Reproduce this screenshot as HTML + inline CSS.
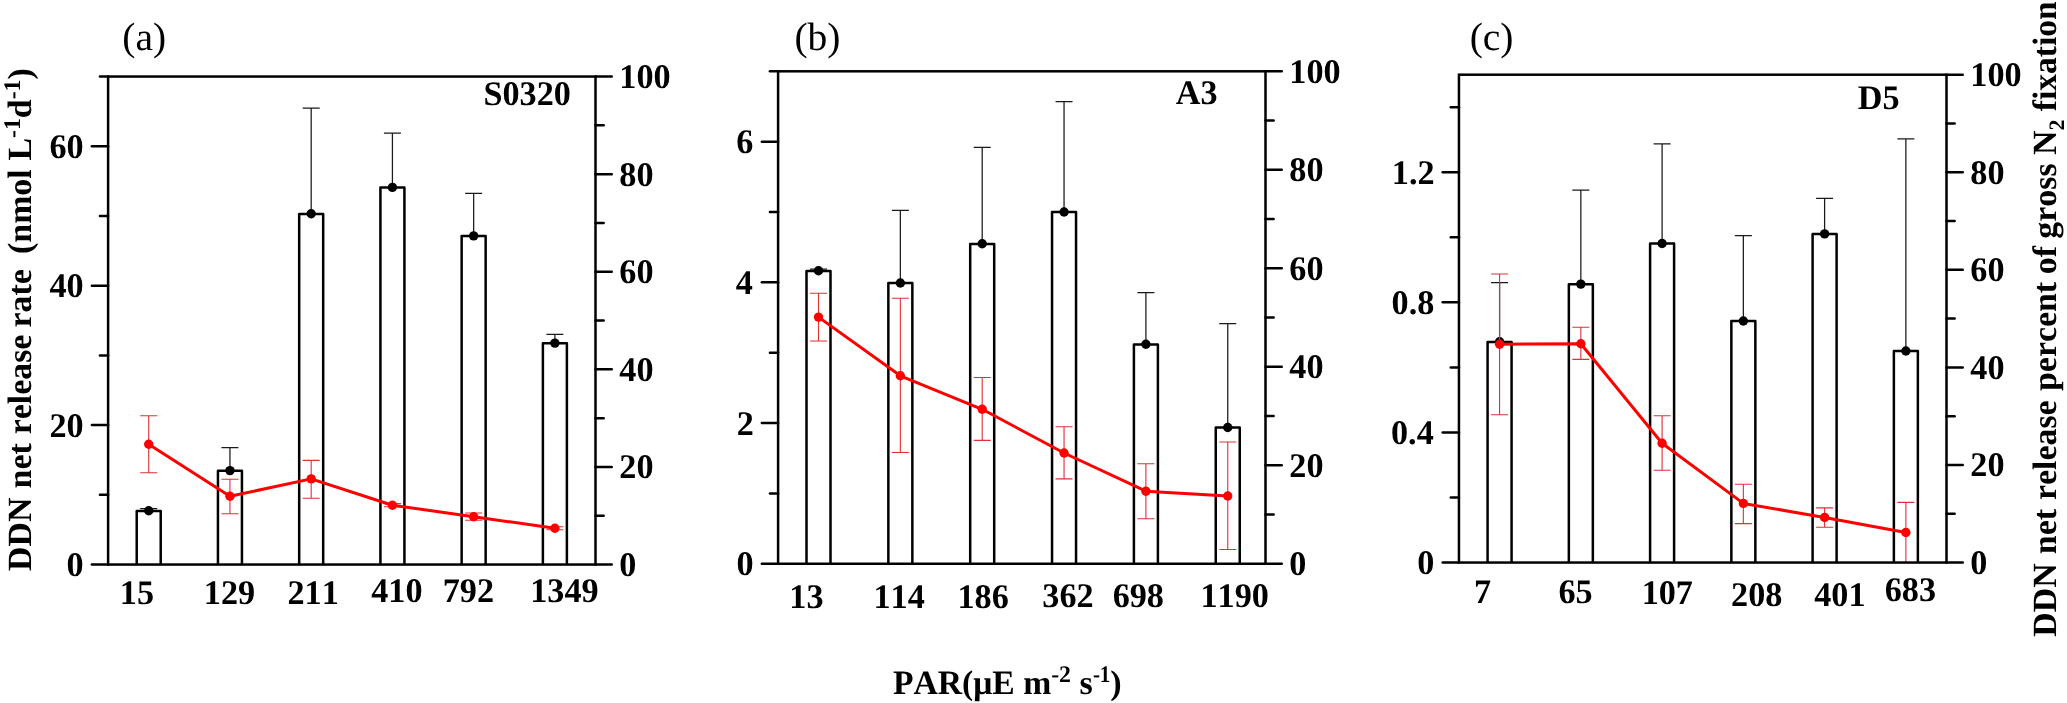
<!DOCTYPE html>
<html lang="en"><head><meta charset="utf-8"><title>DDN net release rate vs PAR</title>
<style>html,body{margin:0;padding:0;background:#fff}body{width:2067px;height:703px;overflow:hidden}svg{display:block;will-change:transform}text{font-family:"Liberation Serif","Times New Roman",Times,serif;fill:#000;font-kerning:none;font-variant-ligatures:none;text-rendering:geometricPrecision}</style>
</head><body>
<svg width="2067" height="703" viewBox="0 0 2067 703" role="img" aria-label="DDN net release rate and percent of gross N2 fixation versus PAR at stations S0320, A3 and D5">
<g id="panel-a">
<g fill="none" stroke="#000" stroke-width="2.5" stroke-linejoin="round">
<path d="M136.72 564.55V510.9H160.72V564.55"/>
<path d="M217.95 564.55V470.7H241.95V564.55"/>
<path d="M299.18 564.55V213.9H323.18V564.55"/>
<path d="M380.42 564.55V187.5H404.42V564.55"/>
<path d="M461.65 564.55V236H485.65V564.55"/>
<path d="M542.88 564.55V343.2H566.88V564.55"/>
</g>
<g stroke="#1a1a1a" stroke-width="1.25" fill="none">
<path d="M148.72 510.9V508.6M140.22 508.6H157.22"/>
<path d="M229.95 470.7V447.7M221.45 447.7H238.45"/>
<path d="M311.18 213.9V108.2M302.68 108.2H319.68"/>
<path d="M392.42 187.5V133M383.92 133H400.92"/>
<path d="M473.65 236V193.3M465.15 193.3H482.15"/>
<path d="M554.88 343.2V334.3M546.38 334.3H563.38"/>
</g>
<g fill="#000">
<circle cx="148.72" cy="510.8" r="4.7"/>
<circle cx="229.95" cy="470.6" r="4.7"/>
<circle cx="311.18" cy="213.8" r="4.7"/>
<circle cx="392.42" cy="187.4" r="4.7"/>
<circle cx="473.65" cy="235.9" r="4.7"/>
<circle cx="554.88" cy="343.1" r="4.7"/>
</g>
<g stroke="#de3038" stroke-width="1.1" fill="none">
<path d="M148.72 415.8V472.8M140.22 415.8H157.22M140.22 472.8H157.22"/>
<path d="M229.95 479.2V513.7M221.45 479.2H238.45M221.45 513.7H238.45"/>
<path d="M311.18 460.4V498.3M302.68 460.4H319.68M302.68 498.3H319.68"/>
<path d="M392.42 503.6V506.8M383.92 503.6H400.92M383.92 506.8H400.92"/>
<path d="M473.65 513V520.2M465.15 513H482.15M465.15 520.2H482.15"/>
<path d="M554.88 526.8V529.8M546.38 526.8H563.38M546.38 529.8H563.38"/>
</g>
<polyline points="148.72,444.3 229.95,496.3 311.18,478.9 392.42,505.2 473.65,516.7 554.88,528.3" fill="none" stroke="#fd0000" stroke-width="3" stroke-linejoin="round"/>
<g fill="#fd0000">
<circle cx="148.72" cy="444.3" r="4.7"/>
<circle cx="229.95" cy="496.3" r="4.7"/>
<circle cx="311.18" cy="478.9" r="4.7"/>
<circle cx="392.42" cy="505.2" r="4.7"/>
<circle cx="473.65" cy="516.7" r="4.7"/>
<circle cx="554.88" cy="528.3" r="4.7"/>
</g>
<rect x="108.1" y="76.55" width="487.4" height="488" fill="none" stroke="#000" stroke-width="2.5"/>
<g stroke="#000" stroke-width="2.5" stroke-linecap="round">
<line x1="91.85" y1="564.55" x2="108.1" y2="564.55"/>
<line x1="99.95" y1="494.84" x2="108.1" y2="494.84"/>
<line x1="91.85" y1="425.12" x2="108.1" y2="425.12"/>
<line x1="99.95" y1="355.41" x2="108.1" y2="355.41"/>
<line x1="91.85" y1="285.69" x2="108.1" y2="285.69"/>
<line x1="99.95" y1="215.98" x2="108.1" y2="215.98"/>
<line x1="91.85" y1="146.26" x2="108.1" y2="146.26"/>
<line x1="99.95" y1="76.55" x2="108.1" y2="76.55"/>
<line x1="595.5" y1="564.55" x2="611.75" y2="564.55"/>
<line x1="595.5" y1="515.75" x2="603.65" y2="515.75"/>
<line x1="595.5" y1="466.95" x2="611.75" y2="466.95"/>
<line x1="595.5" y1="418.15" x2="603.65" y2="418.15"/>
<line x1="595.5" y1="369.35" x2="611.75" y2="369.35"/>
<line x1="595.5" y1="320.55" x2="603.65" y2="320.55"/>
<line x1="595.5" y1="271.75" x2="611.75" y2="271.75"/>
<line x1="595.5" y1="222.95" x2="603.65" y2="222.95"/>
<line x1="595.5" y1="174.15" x2="611.75" y2="174.15"/>
<line x1="595.5" y1="125.35" x2="603.65" y2="125.35"/>
<line x1="595.5" y1="76.55" x2="611.75" y2="76.55"/>
</g>
<g font-size="34.2" font-weight="bold">
<text transform="translate(66.5 576.05) scale(1 1.01)">0</text>
<text transform="translate(49.4 436.62) scale(1 1.01)">20</text>
<text transform="translate(49.4 297.19) scale(1 1.01)">40</text>
<text transform="translate(49.4 157.76) scale(1 1.01)">60</text>
<text transform="translate(619.3 576.05) scale(1 1.01)">0</text>
<text transform="translate(619.3 478.45) scale(1 1.01)">20</text>
<text transform="translate(619.3 380.85) scale(1 1.01)">40</text>
<text transform="translate(619.3 283.25) scale(1 1.01)">60</text>
<text transform="translate(619.3 185.65) scale(1 1.01)">80</text>
<text transform="translate(619.3 88.05) scale(1 1.01)">100</text>
<text transform="translate(119.86 603.5) scale(1 1.01)">15</text>
<text transform="translate(203.8 603.5) scale(1 1.01)">129</text>
<text transform="translate(287.47 604.3) scale(1 1.01)">211</text>
<text transform="translate(371.27 601.5) scale(1 1.01)">410</text>
<text transform="translate(442.71 602.3) scale(1 1.01)">792</text>
<text transform="translate(530.2 601.5) scale(1 1.01)">1349</text>
<text transform="translate(483.48 104.6) scale(1 1.01)">S0320</text>
</g>
<text x="122.33" y="49.8" font-size="39.5">(a)</text>
</g>
<g id="panel-b">
<g fill="none" stroke="#000" stroke-width="2.5" stroke-linejoin="round">
<path d="M806.5 563.75V270.9H830.5V563.75"/>
<path d="M888.35 563.75V283.1H912.35V563.75"/>
<path d="M970.2 563.75V243.9H994.2V563.75"/>
<path d="M1052.05 563.75V212.1H1076.05V563.75"/>
<path d="M1133.9 563.75V344.4H1157.9V563.75"/>
<path d="M1215.75 563.75V427.6H1239.75V563.75"/>
</g>
<g stroke="#1a1a1a" stroke-width="1.25" fill="none">
<path d="M818.5 270.9V269M810 269H827"/>
<path d="M900.35 283.1V210.4M891.85 210.4H908.85"/>
<path d="M982.2 243.9V147.3M973.7 147.3H990.7"/>
<path d="M1064.05 212.1V101.5M1055.55 101.5H1072.55"/>
<path d="M1145.9 344.4V292.5M1137.4 292.5H1154.4"/>
<path d="M1227.75 427.6V323.6M1219.25 323.6H1236.25"/>
</g>
<g fill="#000">
<circle cx="818.5" cy="270.8" r="4.7"/>
<circle cx="900.35" cy="283" r="4.7"/>
<circle cx="982.2" cy="243.8" r="4.7"/>
<circle cx="1064.05" cy="212" r="4.7"/>
<circle cx="1145.9" cy="344.3" r="4.7"/>
<circle cx="1227.75" cy="427.5" r="4.7"/>
</g>
<g stroke="#de3038" stroke-width="1.1" fill="none">
<path d="M818.5 293.3V341M810 293.3H827M810 341H827"/>
<path d="M900.35 298.2V452.5M891.85 298.2H908.85M891.85 452.5H908.85"/>
<path d="M982.2 377.5V440.4M973.7 377.5H990.7M973.7 440.4H990.7"/>
<path d="M1064.05 426.7V478.9M1055.55 426.7H1072.55M1055.55 478.9H1072.55"/>
<path d="M1145.9 463.7V518.8M1137.4 463.7H1154.4M1137.4 518.8H1154.4"/>
<path d="M1227.75 442V549.5M1219.25 442H1236.25M1219.25 549.5H1236.25"/>
</g>
<polyline points="818.5,317.1 900.35,375.8 982.2,409.3 1064.05,453 1145.9,491.2 1227.75,496" fill="none" stroke="#fd0000" stroke-width="3" stroke-linejoin="round"/>
<g fill="#fd0000">
<circle cx="818.5" cy="317.1" r="4.7"/>
<circle cx="900.35" cy="375.8" r="4.7"/>
<circle cx="982.2" cy="409.3" r="4.7"/>
<circle cx="1064.05" cy="453" r="4.7"/>
<circle cx="1145.9" cy="491.2" r="4.7"/>
<circle cx="1227.75" cy="496" r="4.7"/>
</g>
<rect x="778.1" y="71.3" width="487.4" height="492.45" fill="none" stroke="#000" stroke-width="2.5"/>
<g stroke="#000" stroke-width="2.5" stroke-linecap="round">
<line x1="761.85" y1="563.75" x2="778.1" y2="563.75"/>
<line x1="769.95" y1="493.4" x2="778.1" y2="493.4"/>
<line x1="761.85" y1="423.05" x2="778.1" y2="423.05"/>
<line x1="769.95" y1="352.7" x2="778.1" y2="352.7"/>
<line x1="761.85" y1="282.35" x2="778.1" y2="282.35"/>
<line x1="769.95" y1="212" x2="778.1" y2="212"/>
<line x1="761.85" y1="141.65" x2="778.1" y2="141.65"/>
<line x1="769.95" y1="71.3" x2="778.1" y2="71.3"/>
<line x1="1265.5" y1="563.75" x2="1281.75" y2="563.75"/>
<line x1="1265.5" y1="514.5" x2="1273.65" y2="514.5"/>
<line x1="1265.5" y1="465.26" x2="1281.75" y2="465.26"/>
<line x1="1265.5" y1="416.01" x2="1273.65" y2="416.01"/>
<line x1="1265.5" y1="366.77" x2="1281.75" y2="366.77"/>
<line x1="1265.5" y1="317.52" x2="1273.65" y2="317.52"/>
<line x1="1265.5" y1="268.28" x2="1281.75" y2="268.28"/>
<line x1="1265.5" y1="219.03" x2="1273.65" y2="219.03"/>
<line x1="1265.5" y1="169.79" x2="1281.75" y2="169.79"/>
<line x1="1265.5" y1="120.54" x2="1273.65" y2="120.54"/>
<line x1="1265.5" y1="71.3" x2="1281.75" y2="71.3"/>
</g>
<g font-size="34.2" font-weight="bold">
<text transform="translate(736.5 575.25) scale(1 1.01)">0</text>
<text transform="translate(736.67 434.55) scale(1 1.01)">2</text>
<text transform="translate(735.83 293.85) scale(1 1.01)">4</text>
<text transform="translate(736.2 153.15) scale(1 1.01)">6</text>
<text transform="translate(1289.3 575.25) scale(1 1.01)">0</text>
<text transform="translate(1289.3 476.76) scale(1 1.01)">20</text>
<text transform="translate(1289.3 378.27) scale(1 1.01)">40</text>
<text transform="translate(1289.3 279.78) scale(1 1.01)">60</text>
<text transform="translate(1289.3 181.29) scale(1 1.01)">80</text>
<text transform="translate(1289.3 82.8) scale(1 1.01)">100</text>
<text transform="translate(789.32 607.8) scale(1 1.01)">13</text>
<text transform="translate(873.5 607.8) scale(1 1.01)">114</text>
<text transform="translate(957.53 608.3) scale(1 1.01)">186</text>
<text transform="translate(1042.29 606.5) scale(1 1.01)">362</text>
<text transform="translate(1112.68 607) scale(1 1.01)">698</text>
<text transform="translate(1200.48 606.5) scale(1 1.01)">1190</text>
<text transform="translate(1175.72 103.9) scale(1 1.01)">A3</text>
</g>
<text x="794.47" y="49.8" font-size="39.5">(b)</text>
</g>
<g id="panel-c">
<g fill="none" stroke="#000" stroke-width="2.5" stroke-linejoin="round">
<path d="M1487.58 562.55V341.9H1511.58V562.55"/>
<path d="M1568.84 562.55V284.2H1592.84V562.55"/>
<path d="M1650.1 562.55V243.6H1674.1V562.55"/>
<path d="M1731.35 562.55V321.1H1755.35V562.55"/>
<path d="M1812.61 562.55V234H1836.61V562.55"/>
<path d="M1893.87 562.55V351.1H1917.87V562.55"/>
</g>
<g stroke="#1a1a1a" stroke-width="1.25" fill="none">
<path d="M1499.58 341.9V282.5M1491.08 282.5H1508.08"/>
<path d="M1580.84 284.2V190M1572.34 190H1589.34"/>
<path d="M1662.1 243.6V143.9M1653.6 143.9H1670.6"/>
<path d="M1743.35 321.1V235.7M1734.85 235.7H1751.85"/>
<path d="M1824.61 234V198.3M1816.11 198.3H1833.11"/>
<path d="M1905.87 351.1V138.8M1897.37 138.8H1914.37"/>
</g>
<g fill="#000">
<circle cx="1499.58" cy="341.8" r="4.7"/>
<circle cx="1580.84" cy="284.1" r="4.7"/>
<circle cx="1662.1" cy="243.5" r="4.7"/>
<circle cx="1743.35" cy="321" r="4.7"/>
<circle cx="1824.61" cy="233.9" r="4.7"/>
<circle cx="1905.87" cy="351" r="4.7"/>
</g>
<g stroke="#de3038" stroke-width="1.1" fill="none">
<path d="M1499.58 274V414.8M1491.08 274H1508.08M1491.08 414.8H1508.08"/>
<path d="M1580.84 327.2V359.4M1572.34 327.2H1589.34M1572.34 359.4H1589.34"/>
<path d="M1662.1 415.7V470.3M1653.6 415.7H1670.6M1653.6 470.3H1670.6"/>
<path d="M1743.35 484.3V523.6M1734.85 484.3H1751.85M1734.85 523.6H1751.85"/>
<path d="M1824.61 507.9V527.3M1816.11 507.9H1833.11M1816.11 527.3H1833.11"/>
<path d="M1905.87 502.4V562.5M1897.37 502.4H1914.37M1897.37 562.5H1914.37"/>
</g>
<polyline points="1499.58,344.3 1580.84,343.7 1662.1,443.3 1743.35,503.4 1824.61,517.4 1905.87,532.5" fill="none" stroke="#fd0000" stroke-width="3" stroke-linejoin="round"/>
<g fill="#fd0000">
<circle cx="1499.58" cy="344.3" r="4.7"/>
<circle cx="1580.84" cy="343.7" r="4.7"/>
<circle cx="1662.1" cy="443.3" r="4.7"/>
<circle cx="1743.35" cy="503.4" r="4.7"/>
<circle cx="1824.61" cy="517.4" r="4.7"/>
<circle cx="1905.87" cy="532.5" r="4.7"/>
</g>
<rect x="1458.95" y="74.7" width="487.55" height="487.85" fill="none" stroke="#000" stroke-width="2.5"/>
<g stroke="#000" stroke-width="2.5" stroke-linecap="round">
<line x1="1442.7" y1="562.55" x2="1458.95" y2="562.55"/>
<line x1="1450.8" y1="497.5" x2="1458.95" y2="497.5"/>
<line x1="1442.7" y1="432.46" x2="1458.95" y2="432.46"/>
<line x1="1450.8" y1="367.41" x2="1458.95" y2="367.41"/>
<line x1="1442.7" y1="302.36" x2="1458.95" y2="302.36"/>
<line x1="1450.8" y1="237.32" x2="1458.95" y2="237.32"/>
<line x1="1442.7" y1="172.27" x2="1458.95" y2="172.27"/>
<line x1="1450.8" y1="107.22" x2="1458.95" y2="107.22"/>
<line x1="1946.5" y1="562.55" x2="1962.75" y2="562.55"/>
<line x1="1946.5" y1="513.76" x2="1954.65" y2="513.76"/>
<line x1="1946.5" y1="464.98" x2="1962.75" y2="464.98"/>
<line x1="1946.5" y1="416.19" x2="1954.65" y2="416.19"/>
<line x1="1946.5" y1="367.41" x2="1962.75" y2="367.41"/>
<line x1="1946.5" y1="318.62" x2="1954.65" y2="318.62"/>
<line x1="1946.5" y1="269.84" x2="1962.75" y2="269.84"/>
<line x1="1946.5" y1="221.05" x2="1954.65" y2="221.05"/>
<line x1="1946.5" y1="172.27" x2="1962.75" y2="172.27"/>
<line x1="1946.5" y1="123.49" x2="1954.65" y2="123.49"/>
<line x1="1946.5" y1="74.7" x2="1962.75" y2="74.7"/>
</g>
<g font-size="34.2" font-weight="bold">
<text transform="translate(1417.35 574.05) scale(1 1.01)">0</text>
<text transform="translate(1391.03 443.96) scale(1 1.01)">0.4</text>
<text transform="translate(1391.54 313.86) scale(1 1.01)">0.8</text>
<text transform="translate(1391.87 183.77) scale(1 1.01)">1.2</text>
<text transform="translate(1970.3 574.05) scale(1 1.01)">0</text>
<text transform="translate(1970.3 476.48) scale(1 1.01)">20</text>
<text transform="translate(1970.3 378.91) scale(1 1.01)">40</text>
<text transform="translate(1970.3 281.34) scale(1 1.01)">60</text>
<text transform="translate(1970.3 183.77) scale(1 1.01)">80</text>
<text transform="translate(1970.3 86.2) scale(1 1.01)">100</text>
<text transform="translate(1473.89 603.1) scale(1 1.01)">7</text>
<text transform="translate(1558.44 603) scale(1 1.01)">65</text>
<text transform="translate(1641.65 603.5) scale(1 1.01)">107</text>
<text transform="translate(1731.1 606.4) scale(1 1.01)">208</text>
<text transform="translate(1814.2 605.5) scale(1 1.01)">401</text>
<text transform="translate(1884.75 600.6) scale(1 1.01)">683</text>
<text transform="translate(1857.83 108.9) scale(1 1.01)">D5</text>
</g>
<text x="1469.68" y="49.8" font-size="39.5">(c)</text>
</g>
<text transform="translate(31.4 571) rotate(-90) scale(1 1.0)" font-size="33.9" font-weight="bold"><tspan x="0">DDN </tspan><tspan x="82.6">net </tspan><tspan x="136.7">release </tspan><tspan x="243.4">rate </tspan><tspan x="317">(nmol </tspan><tspan x="410.4">L</tspan><tspan font-size="23.8" dy="-11.4">-1</tspan><tspan dy="11.4">d</tspan><tspan font-size="23.8" dy="-11.4">-1</tspan><tspan dy="11.4">)</tspan></text>
<text transform="translate(2056 636.8) rotate(-90) scale(1 1.0)" font-size="33.9" font-weight="bold"><tspan x="0">DDN </tspan><tspan x="82.6">net </tspan><tspan x="136.7">release </tspan><tspan x="245.8">percent </tspan><tspan x="362.6">of </tspan><tspan x="398.1">gross </tspan><tspan x="481.8">N</tspan><tspan font-size="22" dy="8.3">2 </tspan><tspan x="525.6" dy="-8.3" textLength="109.8" lengthAdjust="spacingAndGlyphs">fixation</tspan></text>
<text x="892.9" y="693.8" font-size="34.2" font-weight="bold" xml:space="preserve"><tspan textLength="158.3" lengthAdjust="spacingAndGlyphs">PAR(μE m</tspan><tspan font-size="23.8" dy="-11.8">-2</tspan><tspan dy="11.8"> s</tspan><tspan font-size="23.8" dy="-11.8" textLength="17.5" lengthAdjust="spacingAndGlyphs">-1</tspan><tspan x="1110.3" dy="11.8">)</tspan></text>
</svg>
</body></html>
